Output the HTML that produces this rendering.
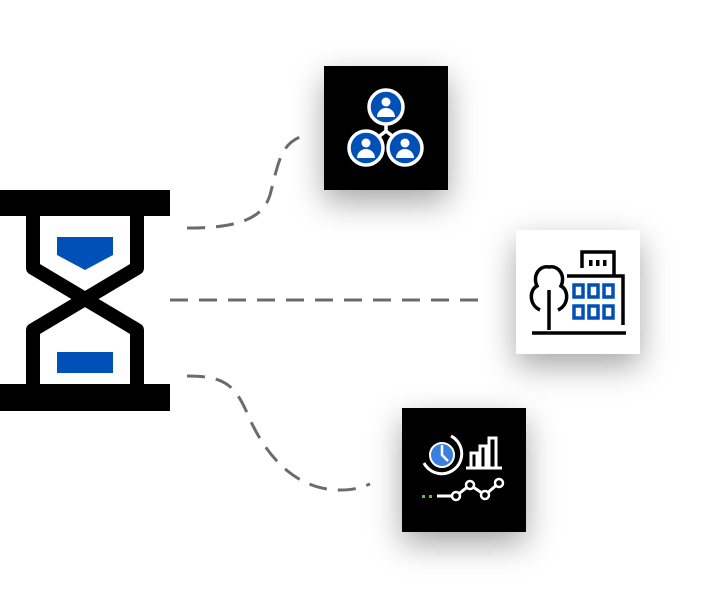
<!DOCTYPE html>
<html><head><style>
html,body{margin:0;padding:0;background:#fff;width:712px;height:610px;overflow:hidden}
.box{position:absolute;width:124px;height:124px;box-shadow:0 12px 30px rgba(0,0,0,0.35)}
</style></head><body>
<div class="box" style="left:324px;top:66px;background:#000"></div>
<div class="box" style="left:516px;top:230px;background:#fff"></div>
<div class="box" style="left:402px;top:408px;background:#000"></div>
<svg width="712" height="610" style="position:absolute;left:0;top:0">
<g fill="none" stroke="#6b6b6b" stroke-width="3" stroke-dasharray="18 11">
<path d="M187,228 C230,228 262,222 270,195 C278,165 280,145 300,137"/>
<path d="M170,300 H478"/>
<path d="M187,376 C225,376 235,385 248,415 C265,455 295,490 340,490 C355,490 362,487 370,484"/>
</g>
<rect x="0" y="190" width="170" height="26" fill="#000"/>
<rect x="0" y="384" width="170" height="27" fill="#000"/>
<path d="M33,216 V268 L137,330 V384 M137,216 V268 L33,330 V384" fill="none" stroke="#000" stroke-width="14" stroke-linejoin="round"/>
<path d="M57,237 H113 V255 L85,270 L57,255 Z" fill="#0050b8"/>
<rect x="57" y="352" width="56" height="21" fill="#0050b8"/>
<g stroke="#fff" stroke-width="3.5">
<path d="M386,120 V131 L367,146 M386,131 L405,146" fill="none"/>
<circle cx="386" cy="107" r="17" fill="#0050b8"/>
<circle cx="366" cy="148" r="17" fill="#0050b8"/>
<circle cx="405" cy="148" r="17" fill="#0050b8"/>
</g>
<g fill="#fff">
<circle cx="386" cy="102" r="4.5"/><path d="M377,117 a9,9 0 0 1 18,0 Z"/>
<circle cx="366" cy="143" r="4.5"/><path d="M357,158 a9,9 0 0 1 18,0 Z"/>
<circle cx="405" cy="143" r="4.5"/><path d="M396,158 a9,9 0 0 1 18,0 Z"/>
</g>
<g fill="none" stroke="#000" stroke-width="3.5">
<path d="M582,268 V252 H614 V275"/>
<path d="M567,276 H623 V325"/>
<path d="M532,333 H626"/>
<path d="M549,330 V290"/>
<path d="M540,310 C529,305 529,290 537,286 C532,275 540,265 549,267 C558,265 566,275 561,286 C569,290 569,305 558,310"/>
</g>
<g fill="#000"><rect x="589" y="260" width="3.5" height="6"/><rect x="596" y="260" width="3.5" height="6"/><rect x="603" y="260" width="3.5" height="6"/></g>
<g fill="none" stroke="#0050b8" stroke-width="3.5">
<rect x="574" y="285" width="9" height="12"/><rect x="589" y="285" width="9" height="12"/><rect x="604" y="285" width="9" height="12"/>
<rect x="574" y="306" width="9" height="12"/><rect x="589" y="306" width="9" height="12"/><rect x="604" y="306" width="9" height="12"/>
</g>
<circle cx="442" cy="455" r="12" fill="#3a7ee0" stroke="#fff" stroke-width="2"/>
<path d="M442,445 V455 L448,461" fill="none" stroke="#fff" stroke-width="2.5"/>
<path d="M451,436 A20,20 0 1 1 424,463" fill="none" stroke="#fff" stroke-width="3"/>
<g fill="none" stroke="#fff" stroke-width="3">
<path d="M466,468 H502"/>
<rect x="471" y="453" width="6" height="15"/><rect x="480" y="446" width="6" height="22"/><rect x="489" y="438" width="7" height="30"/>
<path d="M437,496 H456 L470,485 L485,495 L499,483"/>
</g>
<g fill="#000" stroke="#fff" stroke-width="2.5">
<circle cx="456" cy="496" r="4"/><circle cx="470" cy="485" r="4"/><circle cx="485" cy="495" r="4"/><circle cx="499" cy="483" r="4"/>
</g>
<rect x="422" y="495" width="3" height="3" fill="#6bb83a"/><rect x="429" y="495" width="3" height="3" fill="#6bb83a"/>
</svg>
</body></html>
